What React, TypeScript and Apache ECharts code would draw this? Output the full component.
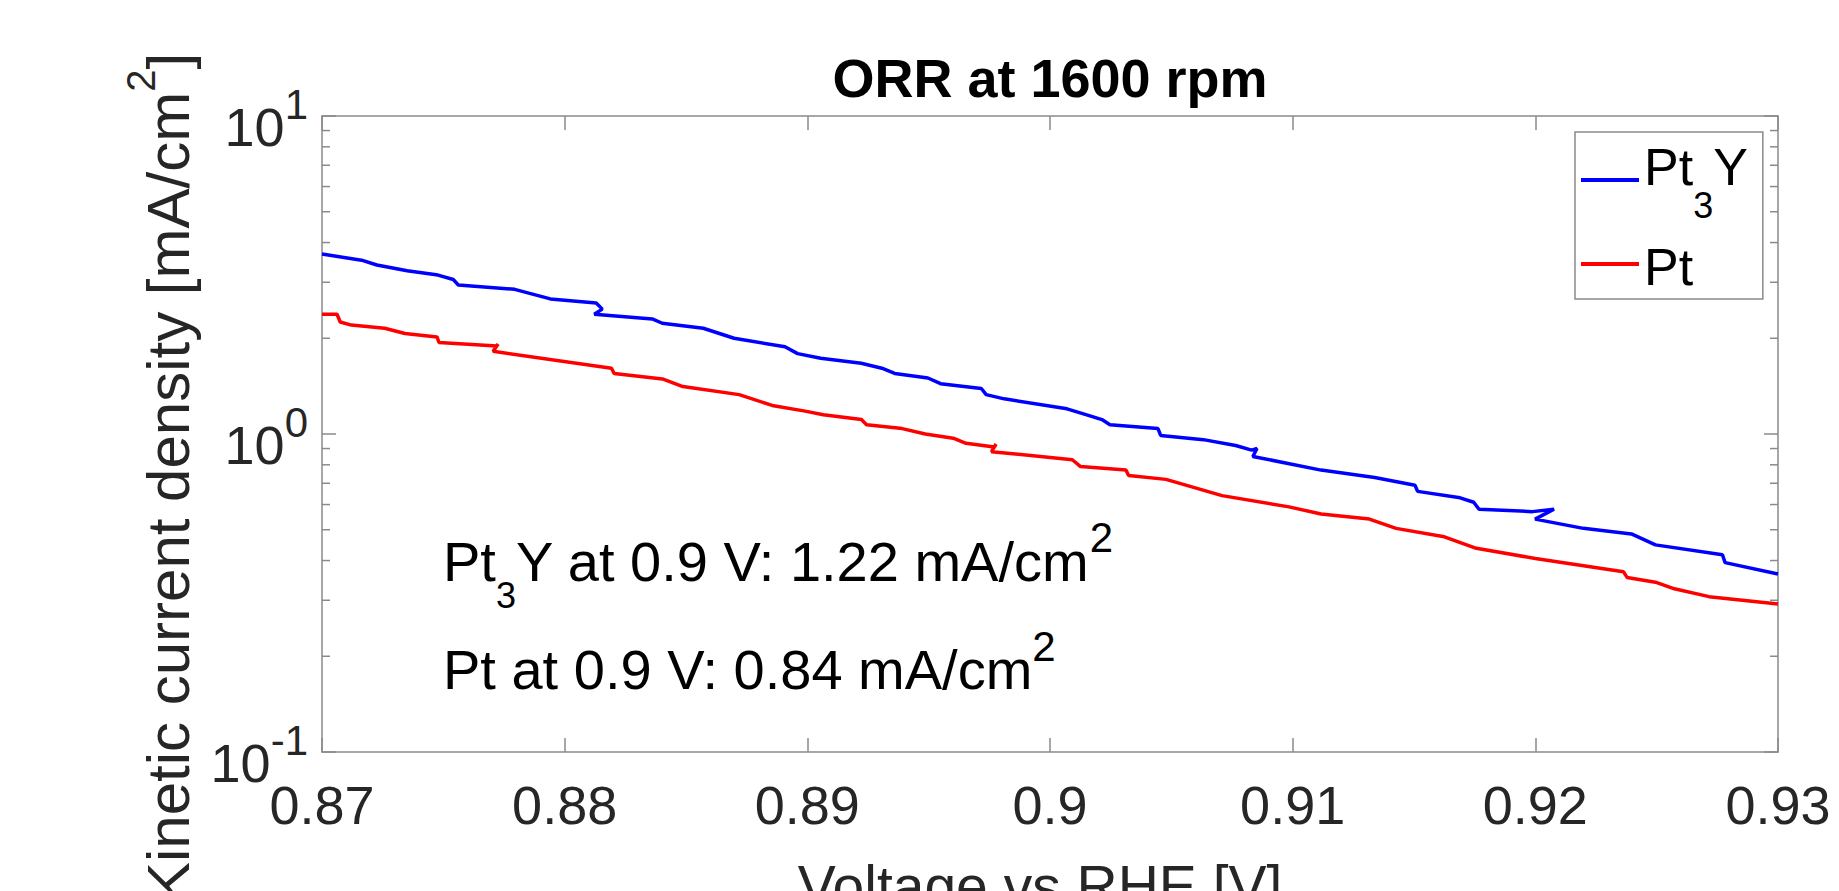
import React, { useEffect, useRef } from 'react';
import * as echarts from 'echarts';

// ---- data ----
const chartTitle = 'ORR at 1600 rpm';
const xAxisTitle = 'Voltage vs RHE [V]';
const seriesNames = ['Pt3Y', 'Pt'];

const xTickValues = [0.87, 0.88, 0.89, 0.9, 0.91, 0.92, 0.93];
const yDecades = [0.1, 1, 10];
const yMinorTicks = [0.2, 0.3, 0.4, 0.5, 0.6, 0.7, 0.8, 0.9, 2, 3, 4, 5, 6, 7, 8, 9];

const voltagePt3Y = [
  0.87, 0.87163, 0.87226, 0.87351, 0.87478, 0.87541, 0.87562, 0.87794, 0.87941, 0.8813,
  0.88155, 0.88122, 0.88361, 0.88402, 0.88571, 0.88698, 0.88908, 0.8896, 0.89055, 0.89222,
  0.89307, 0.8936, 0.89497, 0.89549, 0.89717, 0.89737, 0.89811, 0.9007, 0.90148, 0.90214,
  0.90247, 0.90445, 0.90456, 0.90632, 0.90765, 0.90831, 0.90853, 0.90836, 0.91117, 0.91338,
  0.91504, 0.91515, 0.9169, 0.91746, 0.91768, 0.91988, 0.92077, 0.91999, 0.92198, 0.92396,
  0.92495, 0.92771, 0.92782, 0.93,
];
const currentPt3Y = [
  3.68, 3.52, 3.4, 3.26, 3.16, 3.06, 2.94, 2.85, 2.66, 2.58,
  2.47, 2.38, 2.3, 2.23, 2.15, 2.0, 1.88, 1.79, 1.73, 1.67,
  1.61, 1.55, 1.5, 1.44, 1.39, 1.33, 1.29, 1.2, 1.15, 1.11,
  1.07, 1.04, 0.99, 0.96, 0.92, 0.89, 0.9, 0.85, 0.77, 0.73,
  0.69, 0.66, 0.63, 0.61, 0.58, 0.57, 0.58, 0.54, 0.505, 0.485,
  0.448, 0.417, 0.394, 0.363,
];

const voltagePt = [
  0.87, 0.87062, 0.87075, 0.87121, 0.87258, 0.87342, 0.87474, 0.87482, 0.8772, 0.87726,
  0.87705, 0.88193, 0.88204, 0.88403, 0.88487, 0.88719, 0.88855, 0.88991, 0.89066, 0.89223,
  0.89244, 0.89391, 0.89486, 0.89601, 0.89654, 0.8977, 0.89778, 0.89759, 0.90092, 0.90126,
  0.90313, 0.90324, 0.90478, 0.90709, 0.90985, 0.91117, 0.91316, 0.91426, 0.91625, 0.91757,
  0.92, 0.92363, 0.92378, 0.92495, 0.92573, 0.92716, 0.93,
];
const currentPt = [
  2.38, 2.38, 2.25, 2.2, 2.15, 2.07, 2.02, 1.94, 1.89, 1.92,
  1.82, 1.61, 1.55, 1.49, 1.41, 1.33, 1.23, 1.18, 1.15, 1.11,
  1.07, 1.04, 1.0, 0.97, 0.935, 0.91, 0.93, 0.88, 0.83, 0.79,
  0.77, 0.74, 0.72, 0.64, 0.59, 0.56, 0.54, 0.505, 0.475, 0.437,
  0.406, 0.369, 0.354, 0.342, 0.326, 0.308, 0.292,
];

const pt3YAt09 = '1.22';
const ptAt09 = '0.84';

const FONT = "'Liberation Sans', Arial, Helvetica, sans-serif";
const AXIS_GRAY = '#8a8a8a';
const LABEL_DARK = '#262626';

export default function App() {
  const ref = useRef<HTMLDivElement>(null);

  useEffect(() => {
    document.body.style.margin = '0';
    if (!ref.current) return;
    const chart = echarts.init(ref.current, null, { renderer: 'svg' });

    const pairs = (xs: number[], ys: number[]) => xs.map((x, i) => [x, ys[i]]);
    const axisLineStyle = { color: AXIS_GRAY, width: 1.5 };

    const option: any = {
      animation: false,
      backgroundColor: '#ffffff',
      title: {
        text: chartTitle,
        left: 1050,
        top: 51,
        textAlign: 'center',
        padding: 0,
        textStyle: { fontFamily: FONT, fontSize: 54, fontWeight: 'bold', color: '#000' },
      },
      grid: { left: 322, right: 61, top: 116, bottom: 139, containLabel: false, outerBoundsMode: 'none' },
      legend: {
        data: seriesNames,
        orient: 'vertical',
        left: 1575,
        top: 132,
        icon: 'rect',
        itemWidth: 58,
        itemHeight: 4,
        itemGap: 11,
        padding: [5, 15, 5, 6],
        borderColor: AXIS_GRAY,
        borderWidth: 1.5,
        backgroundColor: '#ffffff',
        selectedMode: false,
        formatter: (name: string) => (name === 'Pt3Y' ? '{a|Pt}{c|3}{a|Y}' : '{d|Pt}'),
        textStyle: {
          fontFamily: FONT,
          color: '#000',
          lineHeight: 60,
          rich: {
            a: { fontFamily: FONT, fontSize: 52, lineHeight: 60, color: '#000', padding: [0, 0, 26, 0] },
            c: { fontFamily: FONT, fontSize: 36, lineHeight: 60, color: '#000', padding: [50, 0, 0, 0] },
            d: { fontFamily: FONT, fontSize: 52, lineHeight: 60, color: '#000', padding: [6, 0, 0, 0] },
          },
        },
      },
      xAxis: [
        {
          type: 'value',
          min: 0.87,
          max: 0.93,
          interval: 0.01,
          name: xAxisTitle,
          nameLocation: 'middle',
          nameGap: 105,
          nameMoveOverlap: false,
          nameTextStyle: { fontFamily: FONT, fontSize: 57, color: LABEL_DARK, padding: [0, 20, 0, 0] },
          axisLine: { show: true, onZero: false, lineStyle: axisLineStyle },
          axisTick: { show: true, inside: true, length: 14, lineStyle: axisLineStyle },
          axisLabel: {
            margin: 26,
            fontFamily: FONT,
            fontSize: 54,
            color: LABEL_DARK,
            formatter: (v: number) => String(parseFloat(v.toFixed(2))),
          },
          splitLine: { show: false },
        },
        {
          type: 'value',
          position: 'top',
          min: 0.87,
          max: 0.93,
          interval: 0.01,
          axisLine: { show: true, onZero: false, lineStyle: axisLineStyle },
          axisTick: { show: true, inside: true, length: 14, lineStyle: axisLineStyle },
          axisLabel: { show: false },
          splitLine: { show: false },
        },
      ],
      yAxis: [
        {
          type: 'log',
          logBase: 10,
          min: yDecades[0],
          max: yDecades[yDecades.length - 1],
          interval: 1,
          name: '{k|Kinetic current density [mA/cm}{q|2}{k|]}',
          nameLocation: 'middle',
          nameRotate: 90,
          nameGap: 124,
          nameMoveOverlap: false,
          nameTextStyle: {
            fontFamily: FONT,
            fontSize: 60,
            lineHeight: 60,
            color: LABEL_DARK,
            padding: [0, 87, 0, 0],
            rich: {
              k: { fontFamily: FONT, fontSize: 60, lineHeight: 60, color: LABEL_DARK },
              q: { fontFamily: FONT, fontSize: 40, lineHeight: 60, color: LABEL_DARK, padding: [0, 0, 54, 0] },
            },
          },
          axisLine: { show: true, onZero: false, lineStyle: axisLineStyle },
          axisTick: { show: true, inside: true, length: 14, lineStyle: axisLineStyle },
          axisLabel: {
            margin: 14,
            formatter: (v: number) => `{b|10}{s|${Math.round(Math.log10(v))}}`,
            rich: {
              b: { fontFamily: FONT, fontSize: 54, lineHeight: 60, color: LABEL_DARK, padding: [22, 0, 0, 0] },
              s: { fontFamily: FONT, fontSize: 42, lineHeight: 60, color: LABEL_DARK, padding: [0, 0, 24, 0] },
            },
          },
          splitLine: { show: false },
          minorTick: { show: false },
        },
        {
          type: 'log',
          logBase: 10,
          position: 'right',
          min: yDecades[0],
          max: yDecades[yDecades.length - 1],
          interval: 1,
          axisLine: { show: true, onZero: false, lineStyle: axisLineStyle },
          axisTick: { show: true, inside: true, length: 14, lineStyle: axisLineStyle },
          axisLabel: { show: false },
          splitLine: { show: false },
        },
      ],
      graphic: [
        {
          type: 'text',
          x: 443,
          y: 561,
          silent: true,
          style: {
            text: `{n|Pt}{b|3}{n|Y at 0.9 V: ${pt3YAt09} mA/cm}{p|2}`,
            align: 'left',
            verticalAlign: 'middle',
            rich: {
              n: { fontFamily: FONT, fontSize: 56, lineHeight: 64, color: '#000' },
              b: { fontFamily: FONT, fontSize: 36, lineHeight: 64, color: '#000', padding: [69, 0, 0, 0] },
              p: { fontFamily: FONT, fontSize: 42, lineHeight: 64, color: '#000', padding: [0, 0, 48, 0] },
            },
          },
        },
        {
          type: 'text',
          x: 443,
          y: 669,
          silent: true,
          style: {
            text: `{n|Pt at 0.9 V: ${ptAt09} mA/cm}{p|2}`,
            align: 'left',
            verticalAlign: 'middle',
            rich: {
              n: { fontFamily: FONT, fontSize: 56, lineHeight: 64, color: '#000' },
              p: { fontFamily: FONT, fontSize: 42, lineHeight: 64, color: '#000', padding: [0, 0, 46, 0] },
            },
          },
        },
      ],
      series: [
        {
          name: 'Pt3Y',
          type: 'line',
          xAxisIndex: 0,
          yAxisIndex: 0,
          data: pairs(voltagePt3Y, currentPt3Y),
          showSymbol: false,
          symbol: 'none',
          color: '#0000ff',
          lineStyle: { color: '#0000ff', width: 3.5 },
          itemStyle: { color: '#0000ff' },
          z: 3,
        },
        {
          name: 'Pt',
          type: 'line',
          xAxisIndex: 0,
          yAxisIndex: 0,
          data: pairs(voltagePt, currentPt),
          showSymbol: false,
          symbol: 'none',
          color: '#ff0000',
          lineStyle: { color: '#ff0000', width: 3.5 },
          itemStyle: { color: '#ff0000' },
          z: 3,
        },
        {
          name: 'minorTicks',
          type: 'custom',
          xAxisIndex: 0,
          yAxisIndex: 0,
          silent: true,
          clip: false,
          data: yMinorTicks.map((v) => [xTickValues[0], v]),
          renderItem: (params: any, api: any) => {
            const y = api.coord([api.value(0), api.value(1)])[1];
            const cs = params.coordSys;
            const st = { stroke: AXIS_GRAY, lineWidth: 1.5 };
            return {
              type: 'group',
              children: [
                { type: 'line', shape: { x1: cs.x, y1: y, x2: cs.x + 8, y2: y }, style: st },
                { type: 'line', shape: { x1: cs.x + cs.width, y1: y, x2: cs.x + cs.width - 8, y2: y }, style: st },
              ],
            };
          },
          z: 2,
        },
      ],
    };

    chart.setOption(option);
    return () => chart.dispose();
  }, []);

  return <div ref={ref} style={{ width: 1839, height: 891 }} />;
}
